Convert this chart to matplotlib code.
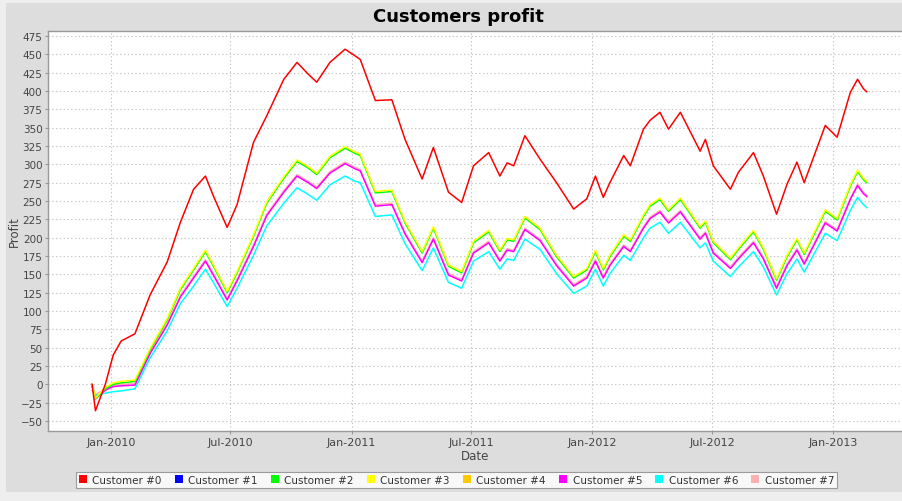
import matplotlib
matplotlib.use("Agg")
import matplotlib.pyplot as plt
import matplotlib.dates as mdates
from matplotlib.patches import Patch, Rectangle
import numpy as np

# dates (shared by all series)
dates = [
    "2009-12-03", "2009-12-08", "2009-12-23", "2010-01-04", "2010-01-16", "2010-02-06",
    "2010-03-01", "2010-03-27", "2010-04-16", "2010-05-06", "2010-05-24", "2010-06-05",
    "2010-06-26", "2010-07-11", "2010-08-05", "2010-08-25", "2010-09-20", "2010-10-10",
    "2010-10-27", "2010-11-09", "2010-11-29", "2010-12-22", "2011-01-06", "2011-01-14",
    "2011-02-06", "2011-03-03", "2011-03-23", "2011-04-18", "2011-05-05", "2011-05-28",
    "2011-06-17", "2011-07-05", "2011-07-28", "2011-08-14", "2011-08-25", "2011-09-04",
    "2011-09-21", "2011-10-14", "2011-11-08", "2011-12-04", "2011-12-24", "2012-01-06",
    "2012-01-18", "2012-01-28", "2012-02-18", "2012-02-28", "2012-03-19", "2012-03-29",
    "2012-04-13", "2012-04-26", "2012-05-14", "2012-06-13", "2012-06-21", "2012-07-03",
    "2012-07-29", "2012-08-10", "2012-09-02", "2012-09-17", "2012-10-07", "2012-10-23",
    "2012-11-07", "2012-11-18", "2012-12-20", "2013-01-07", "2013-01-27", "2013-02-07",
    "2013-02-16", "2013-02-21",
]

cust0 = [0, -36, 0, 40, 59, 69, 122, 167, 221, 266, 284, 257,
         214, 245, 330, 366, 416, 439, 423, 412, 439, 457, 448, 443,
         387, 388, 334, 280, 323, 262, 248, 298, 316, 284, 302, 298,
         339, 307, 275, 239, 253, 284, 255, 275, 312, 298, 348, 360,
         371, 348, 371, 318, 334, 298, 266, 289, 316, 284, 232, 273,
         303, 275, 353, 337, 398, 416, 403, 399]
cust1 = []
cust2 = [0, -20, -6, 0, 2, 4, 47, 88, 129, 156, 181, 161,
         125, 152, 202, 247, 281, 304, 295, 286, 309, 322, 315, 312,
         261, 263, 220, 179, 213, 161, 152, 193, 208, 181, 197, 195,
         227, 211, 174, 145, 156, 181, 156, 174, 202, 195, 229, 243,
         252, 236, 252, 213, 221, 193, 170, 184, 208, 184, 142, 174,
         197, 177, 236, 224, 270, 290, 279, 275]
cust3 = [0, -19, -4, 2, 4, 6, 49, 90, 131, 158, 183, 163,
         127, 154, 204, 249, 283, 306, 297, 288, 311, 324, 317, 314,
         263, 265, 222, 181, 215, 163, 154, 195, 210, 183, 199, 197,
         229, 213, 176, 147, 158, 183, 158, 176, 204, 197, 231, 245,
         254, 238, 254, 215, 223, 195, 172, 186, 210, 186, 144, 176,
         199, 179, 238, 226, 272, 292, 281, 277]
cust4 = []
cust5 = [-3, -20, -8, -3, -2, -1, 42, 81, 119, 145, 168, 149,
         115, 141, 188, 230, 262, 284, 275, 267, 288, 301, 294, 291,
         243, 245, 205, 166, 198, 149, 141, 179, 193, 168, 183, 181,
         211, 196, 162, 134, 145, 168, 145, 162, 188, 181, 213, 226,
         235, 220, 235, 198, 206, 179, 158, 171, 193, 171, 131, 162,
         183, 164, 220, 209, 252, 271, 260, 256]
cust6 = [-8, -15, -12, -10, -9, -6, 36, 73, 110, 134, 157, 139,
         106, 131, 176, 216, 247, 268, 259, 251, 272, 284, 277, 275,
         229, 231, 192, 155, 186, 139, 131, 168, 181, 157, 171, 169,
         198, 184, 151, 124, 134, 157, 134, 151, 176, 169, 200, 213,
         221, 206, 221, 186, 193, 168, 147, 160, 181, 160, 122, 151,
         171, 153, 206, 196, 237, 255, 245, 241]
cust7 = [0, -14, -6, -1, 0, 1, 44, 83, 121, 147, 170, 151,
         117, 143, 190, 232, 264, 286, 277, 269, 290, 303, 296, 293,
         245, 247, 207, 168, 200, 151, 143, 181, 195, 170, 185, 183,
         213, 198, 164, 136, 147, 170, 147, 164, 190, 183, 215, 228,
         237, 222, 237, 200, 208, 181, 160, 173, 195, 173, 133, 164,
         185, 166, 222, 211, 254, 273, 262, 258]

names = ["Customer #%d" % i for i in range(8)]
colors = ["#FF0000", "#0000FF", "#00FF00", "#FFFF00", "#FFC800", "#FF00FF", "#00FFFF", "#FFAFAF"]
series = [cust0, cust1, cust2, cust3, cust4, cust5, cust6, cust7]
# drawing order, bottom first
order = [7, 6, 5, 4, 2, 3, 1, 0]

x = np.array(dates, dtype="datetime64[D]")

fig = plt.figure(figsize=(9.03, 5.02), dpi=100)
fig.patch.set_facecolor("#EEEEEE")
# gray chart panel, behind the axes
fig.patches.append(Rectangle((6 / 903, 9 / 502), 1 - 6 / 903, 1 - 13 / 502,
                             transform=fig.transFigure, facecolor="#DDDDDD",
                             edgecolor="none", zorder=-5))

ax = fig.add_axes([48 / 903, 1 - 432 / 502, 1 - 48 / 903, 400 / 502])
ax.set_facecolor("white")

for z, i in enumerate(order):
    if len(series[i]) > 0:
        ax.plot(x[:len(series[i])], series[i], color=colors[i], lw=1.1, zorder=3 + z)

ax.set_xlim(np.datetime64("2009-09-27"), np.datetime64("2013-04-17"))
ax.set_ylim(-63.6, 481.8)
ax.set_yticks(np.arange(-50, 476, 25))
ax.xaxis.set_major_locator(mdates.MonthLocator(bymonth=[1, 7]))
ax.xaxis.set_major_formatter(mdates.DateFormatter("%b-%Y"))

ax.grid(True, color="#C4C4C4", linestyle=(0, (1.2, 2.2)), linewidth=0.8)
for s in ax.spines.values():
    s.set_color("#999999")
    s.set_linewidth(1.0)
ax.tick_params(axis="both", length=2, color="#999999", labelcolor="#444444", pad=2)
ax.tick_params(axis="y", labelsize=7.5)
ax.tick_params(axis="x", labelsize=8)

ax.set_xlabel("Date", fontsize=8.5, color="#444444", labelpad=2)
ax.set_ylabel("Profit", fontsize=8.5, color="#444444", labelpad=0)

fig.text(0.508, 1 - 17 / 502, "Customers profit", ha="center", va="center",
         fontsize=13, fontweight="bold", color="black")

handles = [Patch(facecolor=c, edgecolor="none") for c in colors]
leg = fig.legend(handles, names, loc="center", bbox_to_anchor=(456.5 / 903, 1 - 481 / 502),
                 ncol=8, fontsize=7.5, frameon=True, fancybox=False, handlelength=0.8,
                 handleheight=0.8, handletextpad=0.5, columnspacing=1.25, borderpad=0.3,
                 borderaxespad=0)
leg.get_frame().set_edgecolor("#888888")
leg.get_frame().set_linewidth(0.8)
for t in leg.get_texts():
    t.set_color("#333333")

fig.savefig("out.png", dpi=100, facecolor=fig.get_facecolor())
